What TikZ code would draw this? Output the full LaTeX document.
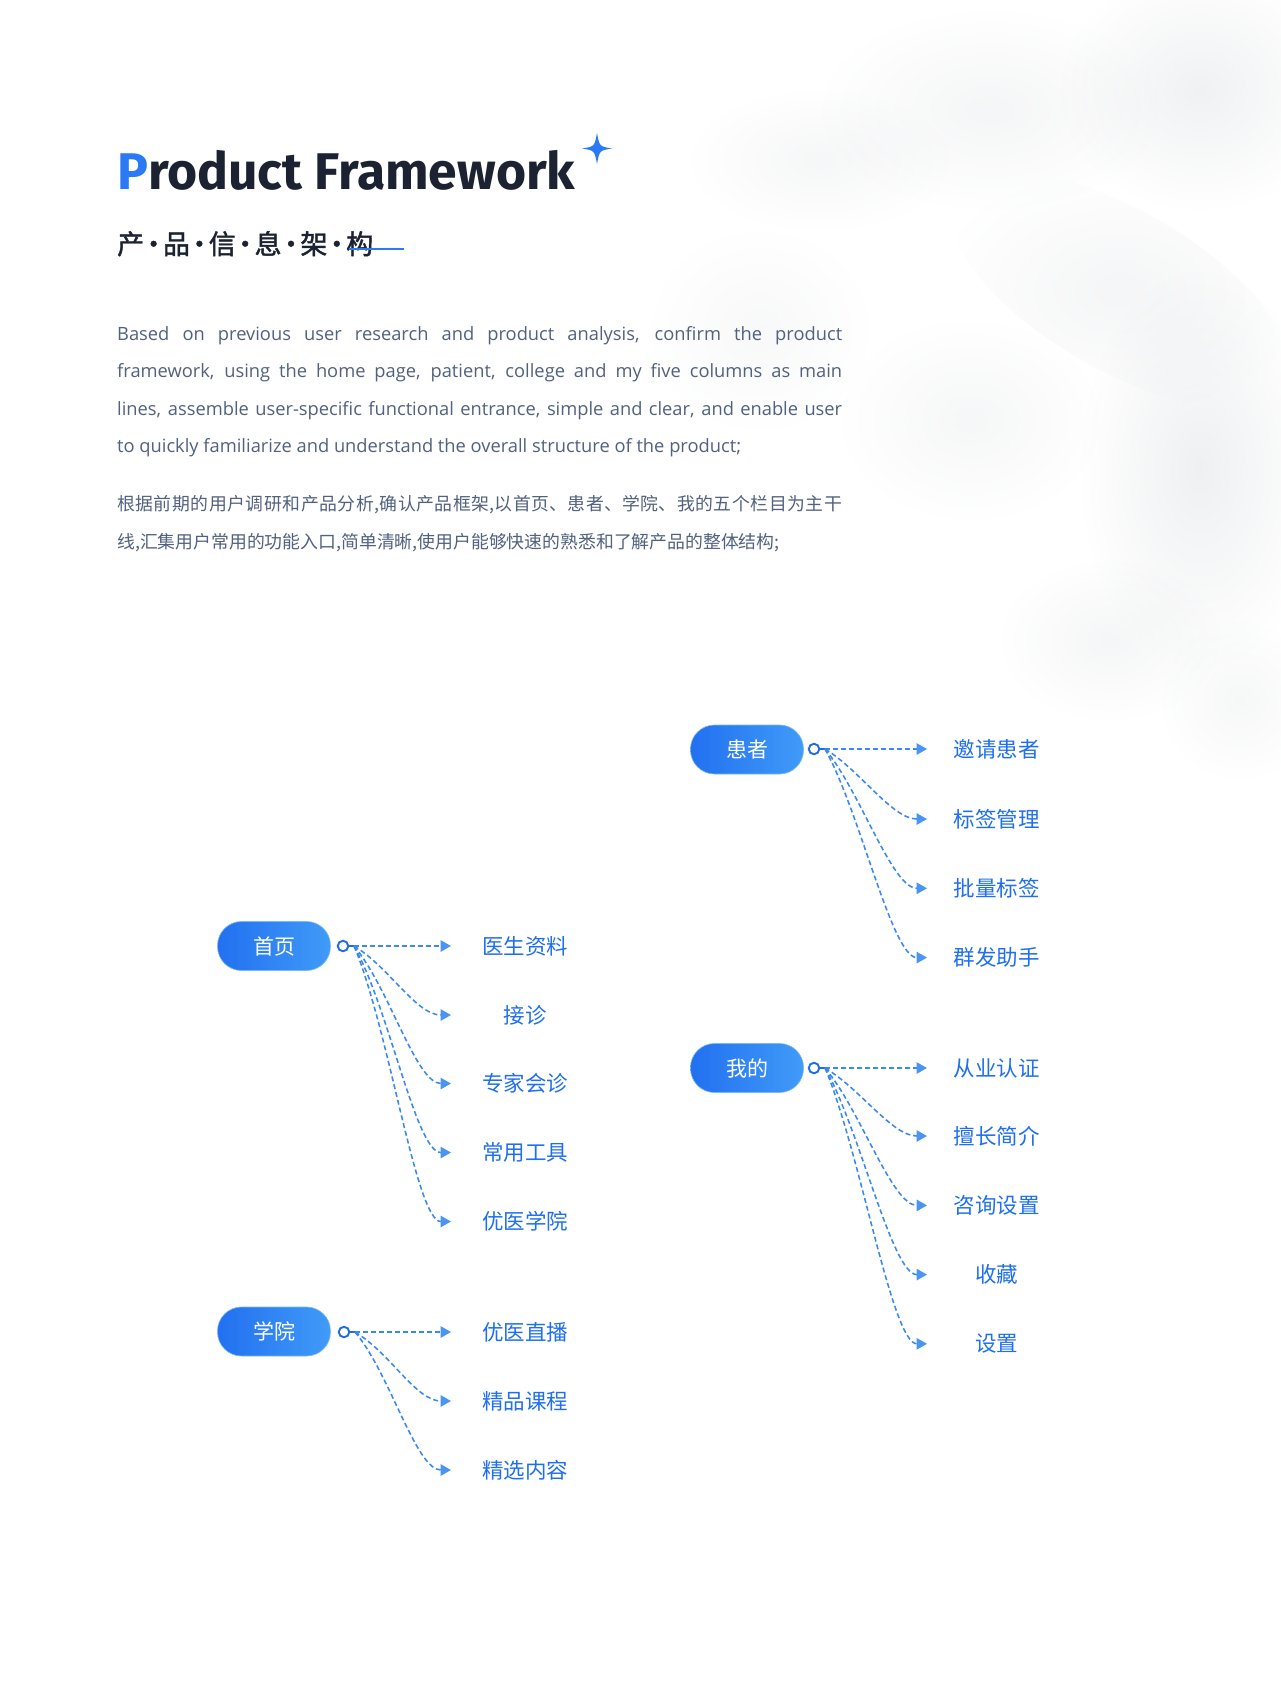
\documentclass[tikz,border=0pt]{standalone}
\usepackage{fontspec}
\usetikzlibrary{arrows.meta,fadings}
\setmainfont{Noto Sans CJK SC}
\newfontfamily\cjk{Noto Sans CJK SC}
\newfontfamily\cjksemi[FakeBold=1.6]{Noto Sans CJK SC}
\newfontfamily\titlefont{Fira Sans}
\newfontfamily\enfont{Open Sans}
\definecolor{titleC}{HTML}{1C2232}
\definecolor{blueP}{HTML}{2A7AF5}
\definecolor{paraC}{HTML}{52617F}
\definecolor{pillL}{HTML}{2270F0}
\definecolor{pillR}{HTML}{409BF8}
\definecolor{lblC}{HTML}{1F6FEF}
\definecolor{connC}{HTML}{3A88F1}
\definecolor{arrC}{HTML}{4A95F4}
\definecolor{ringC}{HTML}{1F6BEA}
\definecolor{shadowC}{HTML}{BCC1C8}
\newcommand{\sdot}{\hspace{-4.1pt}·\hspace{-4.1pt}}
\tikzfading[name=blob, inner color=transparent!0, outer color=transparent!100]
\begin{document}
\begin{tikzpicture}[x=1pt,y=-1pt,
 pill/.style={rectangle, rounded corners=24pt, minimum width=113pt, minimum height=49pt,
   left color=pillL, right color=pillR, draw=pillR!70!white, line width=0.6pt,
   text=white, font=\cjk\fontsize{21}{24}\selectfont, inner sep=0pt},
 ring/.style={circle, draw=ringC, line width=1.9pt, minimum size=10.5pt, inner sep=0pt, fill=white},
 stub/.style={draw=ringC, line width=1.9pt},
 conn/.style={draw=connC, line width=1.55pt, dash pattern=on 5pt off 3pt,
   -{Triangle[length=10.5pt,width=11.5pt,color=arrC]}},
 lbl/.style={text=lblC, font=\cjk\fontsize{21.5}{24}\selectfont, inner sep=0pt, anchor=center},
 shadowblob/.style={fill=shadowC, path fading=blob}
]
% background and bounding box
\fill[white] (0,0) rectangle (1280,1695);
\useasboundingbox (0,0) rectangle (1280,1695);

% faint leaf shadows (top right)
\fill[shadowblob, opacity=0.13] (820,160) ellipse (130 and 70);
\fill[shadowblob, opacity=0.15] (990,110) ellipse (170 and 100);
\fill[shadowblob, opacity=0.22] (1200,90) ellipse (140 and 120);
\fill[shadowblob, opacity=0.15, rotate around={-30:(1120,290)}] (1120,290) ellipse (190 and 80);
\fill[shadowblob, opacity=0.24] (1200,470) ellipse (120 and 200);
\fill[shadowblob, opacity=0.13] (970,420) ellipse (130 and 100);
\fill[shadowblob, opacity=0.14] (1110,640) ellipse (110 and 80);
\fill[shadowblob, opacity=0.10] (760,330) ellipse (110 and 100);
\fill[shadowblob, opacity=0.12] (1240,700) ellipse (80 and 80);

% title
\node[anchor=base west, inner sep=0pt, text=titleC,
      font=\titlefont\bfseries\fontsize{51.6}{60}\selectfont] (title) at (117,189)
      {\textcolor{blueP}{P}roduct Framework};
\fill[blueP] (597,133) .. controls (599.5,146.5) .. (612,148.5)
             .. controls (599.5,150.5) .. (597,164)
             .. controls (594.5,150.5) .. (582,148.5)
             .. controls (594.5,146.5) .. cycle;

% subtitle
\node[anchor=base west, inner sep=0pt, text=titleC,
      font=\cjksemi\fontsize{27}{30}\selectfont] (sub) at (117,254)
      {产\sdot 品\sdot 信\sdot 息\sdot 架\sdot 构};
\coordinate (ulA) at (349,249);
\coordinate (ulB) at (404,249);
\draw[blueP, line width=2.4pt] (ulA) -- (ulB);

% paragraphs
\node[anchor=north west, inner sep=0pt, text width=725pt, align=justify, text=paraC,
      font=\enfont\fontsize{18.3}{37.4}\selectfont] (en) at (117,326)
{Based on previous user research and product analysis, confirm the product\linebreak
framework, using the home page, patient, college and my five columns as main\linebreak
lines, assemble user-specific functional entrance, simple and clear, and enable user\linebreak
to quickly familiarize and understand the overall structure of the product;};

\node[anchor=north west, inner sep=0pt, text width=725pt, align=justify, text=paraC,
      font=\cjk\fontsize{17.85}{37.8}\selectfont] (zh) at (117,495)
{\XeTeXlinebreaklocale "zh"\XeTeXlinebreakskip=0pt plus 2pt
根据前期的用户调研和产品分析,确认产品框架,以首页、患者、学院、我的五个栏目为主干\linebreak
线,汇集用户常用的功能入口,简单清晰,使用户能够快速的熟悉和了解产品的整体结构;};

% ---------- 首页 ----------
\node[pill] (sy) at (274,946) {首页};
\node[ring] (syR) at (343,946) {};
\coordinate (syS) at (354,946);
\draw[stub] (syR.east) -- (syS);
\coordinate (sy1) at (451,946);
\coordinate (sy2) at (451,1015);
\coordinate (sy3) at (451,1083.5);
\coordinate (sy4) at (451,1152.5);
\coordinate (sy5) at (451,1221.5);
\node[lbl] (syL1) at (525,946) {医生资料};
\node[lbl] (syL2) at (525,1015) {接诊};
\node[lbl] (syL3) at (525,1083.5) {专家会诊};
\node[lbl] (syL4) at (525,1152.5) {常用工具};
\node[lbl] (syL5) at (525,1221.5) {优医学院};
\draw[conn] (syS) -- (sy1);
\draw[conn] (syS) .. controls +(35,20.7) and +(-35,0) .. (sy2);
\draw[conn] (syS) .. controls +(35,41.3) and +(-35,0) .. (sy3);
\draw[conn] (syS) .. controls +(35,62) and +(-35,0) .. (sy4);
\draw[conn] (syS) .. controls +(35,82.7) and +(-35,0) .. (sy5);

% ---------- 学院 ----------
\node[pill] (xy) at (274,1331.5) {学院};
\node[ring] (xyR) at (344,1332) {};
\coordinate (xyS) at (355,1332);
\draw[stub] (xyR.east) -- (xyS);
\coordinate (xy1) at (451,1332);
\coordinate (xy2) at (451,1401);
\coordinate (xy3) at (451,1470);
\node[lbl] (xyL1) at (525,1332) {优医直播};
\node[lbl] (xyL2) at (525,1401) {精品课程};
\node[lbl] (xyL3) at (525,1470) {精选内容};
\draw[conn] (xyS) -- (xy1);
\draw[conn] (xyS) .. controls +(35,20.7) and +(-35,0) .. (xy2);
\draw[conn] (xyS) .. controls +(35,41.4) and +(-35,0) .. (xy3);

% ---------- 患者 ----------
\node[pill] (hz) at (747,749.5) {患者};
\node[ring] (hzR) at (814,749) {};
\coordinate (hzS) at (825,749);
\draw[stub] (hzR.east) -- (hzS);
\coordinate (hz1) at (927,749);
\coordinate (hz2) at (927,819);
\coordinate (hz3) at (927,888.3);
\coordinate (hz4) at (927,957.6);
\node[lbl] (hzL1) at (996.5,749) {邀请患者};
\node[lbl] (hzL2) at (996.5,819) {标签管理};
\node[lbl] (hzL3) at (996.5,888.3) {批量标签};
\node[lbl] (hzL4) at (996.5,957.6) {群发助手};
\draw[conn] (hzS) -- (hz1);
\draw[conn] (hzS) .. controls +(35,21) and +(-35,0) .. (hz2);
\draw[conn] (hzS) .. controls +(35,41.8) and +(-35,0) .. (hz3);
\draw[conn] (hzS) .. controls +(35,62.6) and +(-35,0) .. (hz4);

% ---------- 我的 ----------
\node[pill] (wd) at (747,1068) {我的};
\node[ring] (wdR) at (814,1068) {};
\coordinate (wdS) at (825,1068);
\draw[stub] (wdR.east) -- (wdS);
\coordinate (wd1) at (927,1068);
\coordinate (wd2) at (927,1136);
\coordinate (wd3) at (927,1205.4);
\coordinate (wd4) at (927,1274.6);
\coordinate (wd5) at (927,1343.8);
\node[lbl] (wdL1) at (996.5,1068) {从业认证};
\node[lbl] (wdL2) at (996.5,1136) {擅长简介};
\node[lbl] (wdL3) at (996.5,1205.4) {咨询设置};
\node[lbl] (wdL4) at (996.5,1274.6) {收藏};
\node[lbl] (wdL5) at (996.5,1343.8) {设置};
\draw[conn] (wdS) -- (wd1);
\draw[conn] (wdS) .. controls +(35,20.4) and +(-35,0) .. (wd2);
\draw[conn] (wdS) .. controls +(35,41.2) and +(-35,0) .. (wd3);
\draw[conn] (wdS) .. controls +(35,62) and +(-35,0) .. (wd4);
\draw[conn] (wdS) .. controls +(35,82.7) and +(-35,0) .. (wd5);
\end{tikzpicture}
\end{document}
